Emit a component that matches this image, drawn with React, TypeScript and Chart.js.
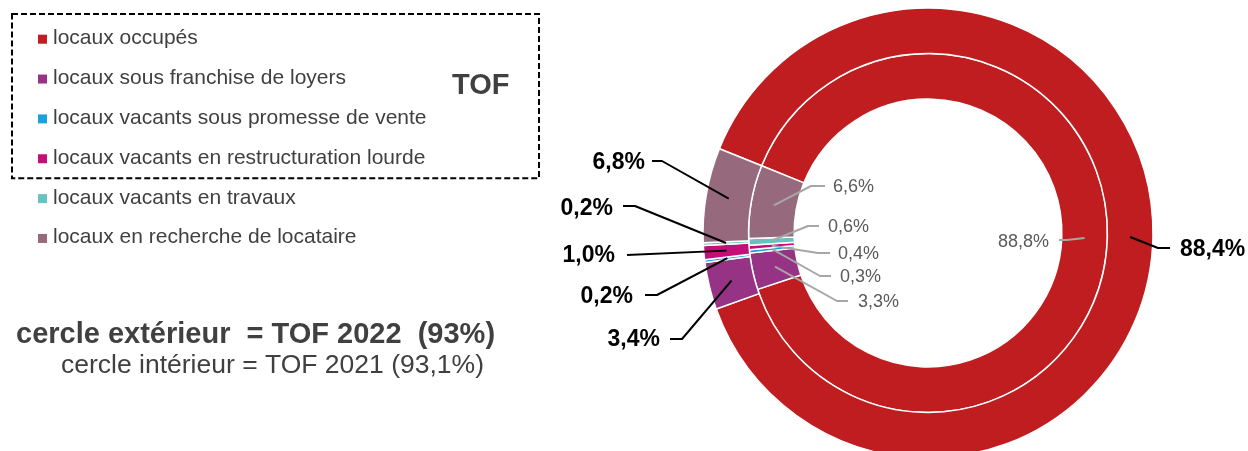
import React, { useEffect, useRef } from "react";
import { Chart, registerables } from "chart.js";

Chart.register(...registerables);

// ---------- data ----------
const categories = [
  "locaux occupés",
  "locaux sous franchise de loyers",
  "locaux vacants sous promesse de vente",
  "locaux vacants en restructuration lourde",
  "locaux vacants en travaux",
  "locaux en recherche de locataire",
];
const values2022 = [88.4, 3.4, 0.2, 1.0, 0.2, 6.8]; // outer ring
const values2021 = [88.8, 3.3, 0.3, 0.4, 0.6, 6.6]; // inner ring
const colors = ["#BF1D1F", "#963384", "#1AA1DC", "#C40E78", "#66C3C0", "#966A7C"];
const boxedCount = 4; // first legend items inside the TOF box
const boxTitle = "TOF";
const noteOuter = "cercle extérieur  = TOF 2022  (93%)";
const noteInner = "cercle intérieur = TOF 2021 (93,1%)";

// ---------- label layout (elbow dx, elbow dy from chart centre, stub length, text gap, text dy, side) ----------
const outerLabelLayout = [
  [230, 15, 12, 10, 2, 1],
  [-246, 106, 12, 10, 1, -1],
  [-271, 62, 12, 12, 2, -1],
  [-301, 22, 0, 12, 1, -1],
  [-293, -27, 12, 10, 3, -1],
  [-266, -72, 10, 7, 2, -1],
];
const innerLabelLayout = [
  [139, 7, 8, 10, 2, -1],
  [-91, 68, 11, 10, 1, 1],
  [-108, 43, 11, 9, 1, 1],
  [-110, 20, 12, 8, 1, 1],
  [-120, -7, 11, 9, 1, 1],
  [-117, -47, 14, 8, 1, 1],
];

const FONT = '"Liberation Sans", Arial, Helvetica, sans-serif';
const W = 1248;
const H = 466;

const fmt = (v: number) => v.toFixed(1).replace(".", ",") + "%";

const labelStyles = [
  { font: `bold 23px ${FONT}`, color: "#000000", line: "#000000", lw: 2 },
  { font: `18px ${FONT}`, color: "#595959", line: "#A6A6A6", lw: 2 },
];

const leaderPlugin = {
  id: "leaderLabels",
  afterDatasetsDraw(chart: any) {
    const ctx = chart.ctx as CanvasRenderingContext2D;
    [0, 1].forEach((d) => {
      const meta = chart.getDatasetMeta(d);
      const vals = chart.data.datasets[d].data as number[];
      const layout = d === 0 ? outerLabelLayout : innerLabelLayout;
      const st = labelStyles[d];
      meta.data.forEach((arc: any, i: number) => {
        const a = arc.getCenterPoint();
        const [ex, ey, stub, gap, tdy, side] = layout[i];
        const elx = arc.x + ex;
        const ely = arc.y + ey;
        const sx = elx + side * stub;
        ctx.save();
        ctx.strokeStyle = st.line;
        ctx.lineWidth = st.lw;
        ctx.lineJoin = "round";
        ctx.beginPath();
        ctx.moveTo(a.x, a.y);
        ctx.lineTo(elx, ely);
        if (stub) ctx.lineTo(sx, ely);
        ctx.stroke();
        ctx.font = st.font;
        ctx.fillStyle = st.color;
        ctx.textBaseline = "middle";
        ctx.textAlign = side < 0 ? "right" : "left";
        ctx.fillText(fmt(vals[i]), sx + side * gap, ely + tdy);
        ctx.restore();
      });
    });
  },
};

const legendPlugin = {
  id: "sideLegend",
  afterDraw(chart: any) {
    const ctx = chart.ctx as CanvasRenderingContext2D;
    const labels = chart.data.labels as string[];
    const bg = chart.data.datasets[0].backgroundColor as string[];
    ctx.save();
    const x0 = 38;
    const y0 = 39.2;
    const step = 39.85;
    labels.forEach((lab, i) => {
      const cy = y0 + i * step;
      ctx.fillStyle = bg[i];
      ctx.fillRect(x0, cy - 4.5, 9, 9);
      ctx.font = `21px ${FONT}`;
      ctx.fillStyle = "#404040";
      ctx.textBaseline = "alphabetic";
      ctx.textAlign = "left";
      ctx.fillText(lab, 53, cy + 5);
    });
    // dashed box around first items
    const boxBottom = y0 + (boxedCount - 1) * step + 19.5;
    ctx.strokeStyle = "#000000";
    ctx.lineWidth = 2;
    ctx.setLineDash([6, 3]);
    ctx.strokeRect(12, 14, 527, boxBottom - 14);
    ctx.setLineDash([]);
    ctx.font = `bold 29px ${FONT}`;
    ctx.fillStyle = "#404040";
    ctx.fillText(boxTitle, 452, 94);
    // notes
    ctx.font = `bold 29px ${FONT}`;
    ctx.fillText(noteOuter, 16, 343);
    ctx.font = `26.5px ${FONT}`;
    ctx.fillText(noteInner, 61, 373);
    ctx.restore();
  },
};

export default function App() {
  const ref = useRef<HTMLCanvasElement | null>(null);
  useEffect(() => {
    if (!ref.current) return;
    const chart = new Chart(ref.current, {
      type: "doughnut",
      data: {
        labels: categories,
        datasets: [
          { label: "TOF 2022", data: values2022, backgroundColor: colors, borderColor: "#ffffff", borderWidth: 1.5 },
          { label: "TOF 2021", data: values2021, backgroundColor: colors, borderColor: "#ffffff", borderWidth: 1.5 },
        ],
      },
      options: {
        responsive: false,
        animation: false,
        events: [],
        rotation: -68,
        cutout: "59.5%",
        radius: 225,
        layout: { padding: { left: 608, right: 0, top: 0, bottom: 0 } },
        elements: { arc: { hoverOffset: 0, offset: 0 } as any },
        plugins: {
          legend: { display: false },
          tooltip: { enabled: false },
        },
      } as any,
      plugins: [leaderPlugin, legendPlugin],
    });
    return () => chart.destroy();
  }, []);
  return (
    <div style={{ position: "fixed", left: 0, top: 0, width: 1248, height: 451, overflow: "hidden", background: "#fff" }}>
      <canvas ref={ref} width={W} height={H} style={{ display: "block", width: W, height: H }} />
    </div>
  );
}
